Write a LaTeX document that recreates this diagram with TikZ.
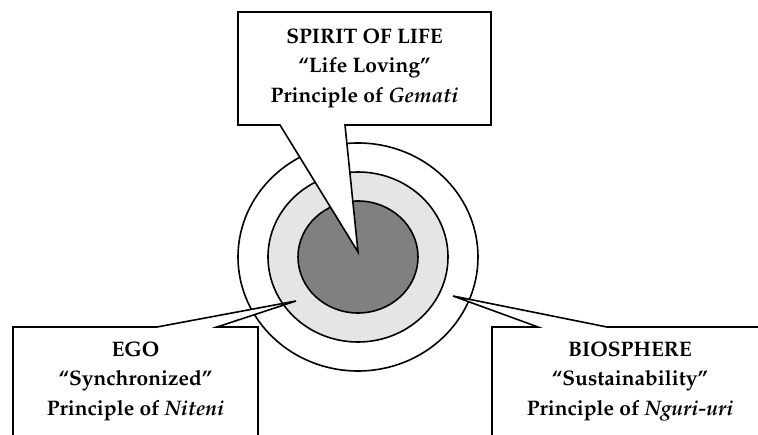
\documentclass[tikz,border=0pt]{standalone}
\usepackage[T1]{fontenc}
\usepackage{mathpazo}
\begin{document}
\begin{tikzpicture}[x=1pt, y=1pt,
		ring/.style={draw=black, line width=1.6pt},
		callout/.style={draw=black, line width=1.6pt, fill=white},
		label/.style={align=center, inner sep=0pt, font=\fontsize{21}{29.5}\selectfont\bfseries}]
		\useasboundingbox (0, 0) rectangle (758, 434);
		\clip (0, 0) rectangle (758, 434);

		% the three rings
		\coordinate (core) at (358, 177);
		\draw[ring, fill=white] (core) ellipse [x radius=120, y radius=114];
		\draw[ring, fill=black!10] (core) ellipse [x radius=90, y radius=85];
		\draw[ring, fill=black!50] (core) ellipse [x radius=60, y radius=56];

		% spirit of life
		\coordinate (lifetip) at (358, 182);
		\draw[callout]
		(238, 422) -- (491, 422) -- (491, 309) -- (345, 309) --
		(lifetip) -- (280, 309) -- (238, 309) -- cycle;
		\node[label] (life) at (364.5, 366) {SPIRIT OF LIFE\\``Life Loving''\\Principle of \textit{Gemati}};

		% ego
		\coordinate (egotip) at (296, 133);
		\draw[callout]
		(13, -10) -- (13, 107) -- (157, 107) -- (egotip) --
		(217, 107) -- (258, 107) -- (258, -10) -- cycle;
		\node[label] (ego) at (135.5, 53) {EGO\\``Synchronized''\\Principle of \textit{Niteni}};

		% biosphere
		\coordinate (biotip) at (453, 138);
		\draw[callout]
		(492, -10) -- (492, 107) -- (538, 107) -- (biotip) --
		(607, 107) -- (770, 107) -- (770, -10) -- cycle;
		\node[label] (bio) at (630, 53) {BIOSPHERE\\``Sustainability''\\Principle of \textit{Nguri-uri}};
	\end{tikzpicture}
\end{document}
